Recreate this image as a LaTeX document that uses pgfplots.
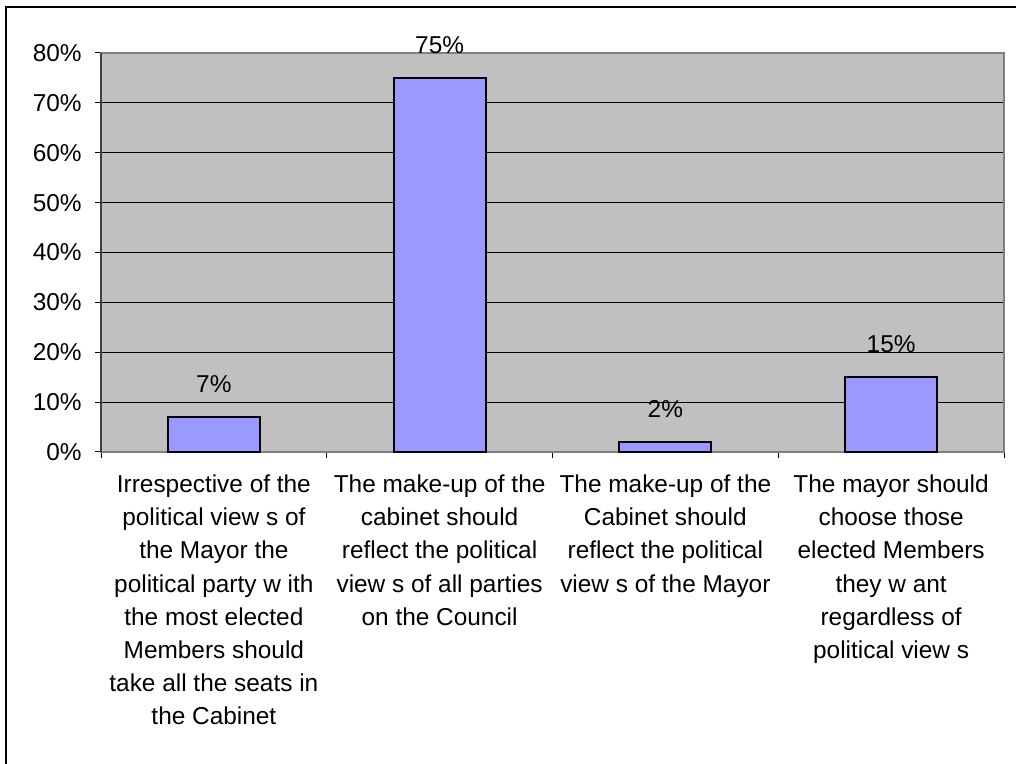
\documentclass[border=0pt]{standalone}
\usepackage{pgfplots}
\pgfplotsset{compat=1.18}
\usepackage{fontspec}
\setmainfont{Liberation Sans}
\definecolor{plotbg}{HTML}{C0C0C0}
\definecolor{barfill}{HTML}{9999FF}
\definecolor{frameg}{HTML}{808080}
\begin{document}
\fontsize{12.2}{16.6}\selectfont
\begin{tikzpicture}
\useasboundingbox (0,0) rectangle (508pt,382pt);
\draw[black, line width=0.75pt] (3pt,0) -- (3pt,378.5pt) -- (508pt,378.5pt);
\begin{axis}[
  at={(50.5pt,156pt)}, anchor=south west,
  scale only axis, width=451.5pt, height=199.5pt,
  xmin=0.5, xmax=4.5, ymin=0, ymax=80,
  axis background/.style={fill=plotbg},
  axis line style={frameg, line width=1pt},
  ytick={0,10,...,80},
  yticklabel={\pgfmathprintnumber{\tick}\%},
  yticklabel style={anchor=east, inner sep=0pt, xshift=-6.5pt, font=\fontsize{12.2}{16.6}\selectfont},
  xtick={0.5,1.5,2.5,3.5,4.5}, xticklabels={},
  extra x ticks={1,2,3,4},
  extra x tick labels={{Irrespective of the\\political view s of\\the Mayor the\\political party w ith\\the most elected\\Members should\\take all the seats in\\the Cabinet},{The make-up of the\\cabinet should\\reflect the political\\view s of all parties\\on the Council},{The make-up of the\\Cabinet should\\reflect the political\\view s of the Mayor},{The mayor should\\choose those\\elected Members\\they w ant\\regardless of\\political view s}},
  extra x tick style={major tick length=0pt, grid=none},
  xticklabel style={anchor=north, align=center, inner sep=0pt, yshift=-11.2pt, font=\fontsize{12.2}{16.6}\selectfont},
  tick pos=left, tick align=outside, major tick length=3pt,
  tick style={black, line width=0.5pt},
  ymajorgrids, major grid style={black, line width=0.5pt},
  /pgf/number format/assume math mode=true,
  ybar, bar width=46pt,
  nodes near coords={\pgfmathprintnumber{\pgfplotspointmeta}\%},
  every node near coord/.style={anchor=south, inner sep=0pt, yshift=11.5pt, black, font=\fontsize{12.2}{16.6}\selectfont},
  clip=false,
]
\addplot[fill=barfill, draw=black, line width=1pt] coordinates {(1,7) (2,75) (3,2) (4,15)};
\draw[black!75, line width=0.75pt] (rel axis cs:0,0) -- (rel axis cs:0,1);
\end{axis}
\end{tikzpicture}
\end{document}
